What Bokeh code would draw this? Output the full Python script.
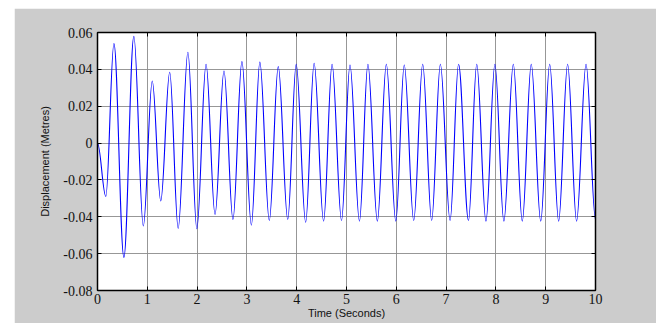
from bokeh.plotting import figure
from bokeh.models import LinearAxis, FixedTicker, ColumnDataSource, Range1d
from bokeh.embed import file_html
from bokeh.resources import INLINE

# Extrema of the displacement trace (time in s, displacement in m)
ext_t = [0.0, 0.167, 0.33, 0.53, 0.73, 0.92, 1.10, 1.27, 1.45, 1.62, 1.815, 1.995,
         2.18, 2.36, 2.54, 2.72, 2.90, 3.09, 3.26, 3.45, 3.63, 3.82, 3.99, 4.18,
         4.35, 4.54, 4.71, 4.90, 5.07, 5.26, 5.43, 5.62, 5.80, 5.99, 6.16, 6.35,
         6.53, 6.71, 6.885, 7.08, 7.25, 7.45, 7.615, 7.80, 7.98, 8.16, 8.35, 8.53,
         8.71, 8.90, 9.08, 9.26, 9.44, 9.62, 9.81, 10.0]
ext_v = [0.0, -0.029, 0.054, -0.062, 0.058, -0.045, 0.0337, -0.0314, 0.0384, -0.0463, 0.0493, -0.0465,
         0.0428, -0.0387, 0.0391, -0.0414, 0.0442, -0.0445, 0.0439, -0.042, 0.0415, -0.0414, 0.0428, -0.0429,
         0.0433, -0.0423, 0.0428, -0.042, 0.0424, -0.0423, 0.0428, -0.0423, 0.0428, -0.0423, 0.0424, -0.042,
         0.0428, -0.042, 0.0428, -0.042, 0.0428, -0.042, 0.0428, -0.0423, 0.0428, -0.0423, 0.0428, -0.0423,
         0.0428, -0.0423, 0.0428, -0.0423, 0.0428, -0.0423, 0.0428, -0.0415]

x_ticks = [0, 1, 2, 3, 4, 5, 6, 7, 8, 9, 10]
x_tick_labels = ["0", "1", "2", "3", "4", "5", "6", "7", "8", "9", "10"]
y_ticks = [-0.08, -0.06, -0.04, -0.02, 0, 0.02, 0.04, 0.06]
y_tick_labels = ["-0.08", "-0.06", "-0.04", "-0.02", "0", "0.02", "0.04", "0.06"]

# Bezier segments between consecutive extrema (horizontal tangents at the extrema)
k = 0.364
x0 = ext_t[:-1]
x1 = ext_t[1:]
y0 = ext_v[:-1]
y1 = ext_v[1:]
cx0 = [a + k * (b - a) for a, b in zip(x0, x1)]
cx1 = [b - k * (b - a) for a, b in zip(x0, x1)]
src = ColumnDataSource(dict(x0=x0, y0=y0, x1=x1, y1=y1, cx0=cx0, cy0=y0, cx1=cx1, cy1=y1))

GRAY = "#cccccc"
p = figure(width=642, height=315,
           x_range=Range1d(0, 10), y_range=Range1d(-0.08, 0.06),
           output_backend="svg", toolbar_location=None,
           min_border_left=83, min_border_right=61, min_border_top=24, min_border_bottom=33,
           border_fill_color=GRAY, background_fill_color="white",
           outline_line_color="black", outline_line_width=1)
p.margin = (8, 0, 0, 14)

p.bezier(x0="x0", y0="y0", x1="x1", y1="y1", cx0="cx0", cy0="cy0", cx1="cx1", cy1="cy1",
         source=src, line_color="#0000ff", line_width=1.1)

xo = {t: l for t, l in zip(x_ticks, x_tick_labels)}
yo = {t: l for t, l in zip(y_ticks, y_tick_labels)}


def style(ax, ticks, overrides, show_labels):
    ax.ticker = FixedTicker(ticks=ticks)
    ax.axis_line_color = "black"
    ax.axis_line_width = 1.5
    ax.major_tick_in = 4
    ax.major_tick_out = 0
    ax.major_tick_line_color = "black"
    ax.minor_tick_line_color = None
    if show_labels:
        ax.major_label_overrides = overrides
        ax.major_label_text_font = "Liberation Serif"
        ax.major_label_text_font_size = "14px"
        ax.major_label_text_color = "#111111"
    else:
        ax.major_label_text_color = None
        ax.major_label_text_alpha = 0
        ax.major_label_text_font_size = "1px"
        ax.major_label_standoff = 0


style(p.xaxis[0], x_ticks, xo, True)
style(p.yaxis[0], y_ticks, yo, True)
p.xaxis[0].major_label_standoff = 3
p.yaxis[0].major_label_standoff = 5

p.xaxis[0].axis_label = "Time (Seconds)"
p.yaxis[0].axis_label = "Displacement (Metres)"
for ax in (p.xaxis[0], p.yaxis[0]):
    ax.axis_label_text_font = "Liberation Sans"
    ax.axis_label_text_font_size = "11px"
    ax.axis_label_text_font_style = "normal"
    ax.axis_label_text_color = "#111111"
p.xaxis[0].axis_label_standoff = 0
p.yaxis[0].axis_label_standoff = 9

top = LinearAxis()
right = LinearAxis()
style(top, x_ticks, xo, False)
style(right, y_ticks, yo, False)
p.add_layout(top, "above")
p.add_layout(right, "right")

p.xgrid.ticker = FixedTicker(ticks=x_ticks)
p.ygrid.ticker = FixedTicker(ticks=y_ticks)
for g in (p.xgrid, p.ygrid):
    g.grid_line_color = "#8c8c8c"
    g.grid_line_width = 1
    g.grid_line_alpha = 0.9

open("out.html", "w").write(file_html(p, INLINE))
